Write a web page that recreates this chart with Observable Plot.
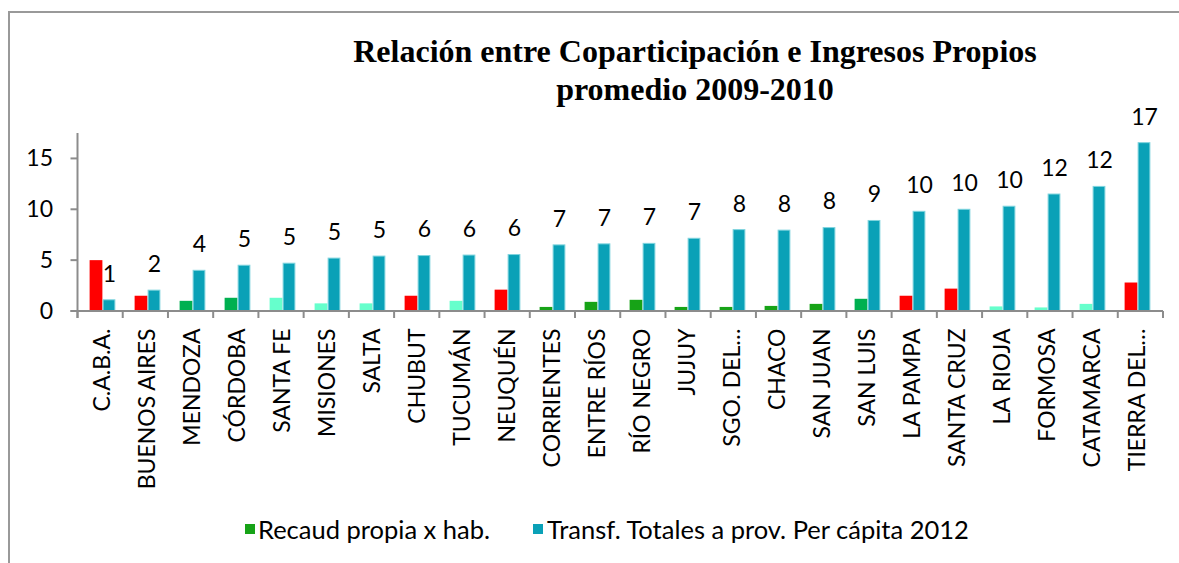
<!DOCTYPE html>
<html>
<head>
<meta charset="utf-8">
<script src="https://cdn.jsdelivr.net/npm/d3@7"></script>
<script src="https://cdn.jsdelivr.net/npm/@observablehq/plot@0.6"></script>
<style>
  html, body { margin: 0; padding: 0; background: #fff; }
  #wrap { position: relative; width: 1179px; height: 563px; overflow: hidden; background: #fff; }
  #frame { position: absolute; left: 8px; top: 11px; right: -20px; bottom: -20px;
           border-top: 2px solid #999; border-left: 2px solid #999; }
  #title { position: relative; height: 100px; }
  #title div { position: absolute; left: 211px; width: 968px; text-align: center;
               font-family: "Liberation Serif", "Times New Roman", serif; font-weight: bold;
               font-size: 32px; line-height: 37px; color: #000; }
  #chart { position: relative; height: 401px; }
  #chart svg { overflow: visible; }
  #legend { position: relative; height: 62px; font-family: Lato, sans-serif; font-size: 25.5px; color: #000; }
  .sw { position: absolute; width: 10px; height: 10px; }
  .lt { position: absolute; line-height: 30px; white-space: nowrap; }
</style>
</head>
<body>
<div id="wrap">
  <div id="frame"></div>
  <div id="title">
    <div style="top:33px">Relación entre Coparticipación e Ingresos Propios</div>
    <div style="top:71px">promedio 2009-2010</div>
  </div>
  <div id="chart"></div>
  <div id="legend">
    <div class="sw" style="left:245px; top:23px; background:#17a317"></div>
    <div class="lt" style="left:258px; top:13px">Recaud propia x hab.</div>
    <div class="sw" style="left:533px; top:23px; background:#0aa1b7"></div>
    <div class="lt" style="left:547px; top:13px">Transf. Totales a prov. Per cápita 2012</div>
  </div>
</div>
<script>
// ---- data ----
const provincias = ["C.A.B.A.","BUENOS AIRES","MENDOZA","CÓRDOBA","SANTA FE","MISIONES","SALTA","CHUBUT","TUCUMÁN","NEUQUÉN","CORRIENTES","ENTRE RÍOS","RÍO NEGRO","JUJUY","SGO. DEL…","CHACO","SAN JUAN","SAN LUIS","LA PAMPA","SANTA CRUZ","LA RIOJA","FORMOSA","CATAMARCA","TIERRA DEL…"];
const recaudPropia = [5.0,1.5,1.0,1.3,1.3,0.75,0.75,1.5,1.0,2.1,0.4,0.9,1.1,0.4,0.4,0.5,0.7,1.2,1.5,2.2,0.45,0.35,0.7,2.8];
const transfTotales = [1.1,2.05,4.0,4.5,4.7,5.2,5.4,5.45,5.5,5.55,6.5,6.6,6.65,7.15,8.0,7.95,8.2,8.9,9.8,10.0,10.3,11.5,12.25,16.55];
const etiquetas = [1,2,4,5,5,5,5,6,6,6,7,7,7,7,8,8,8,9,10,10,10,12,12,17];
const grupo = ["rojo","rojo","verdeOsc","verdeOsc","menta","menta","menta","rojo","menta","rojo","verde","verde","verde","verde","verde","verde","verde","verdeOsc","rojo","rojo","menta","menta","menta","rojo"];
const yTicks = [0,5,10,15];
const grupos = ["rojo","verdeOsc","verde","menta"];
const coloresGrupo = ["#ff0000","#00b050","#17a317","#66ffcc"];

const rows = provincias.map((p, i) => ({prov: p, propia: recaudPropia[i], transf: transfTotales[i], etiqueta: etiquetas[i], grupo: grupo[i]}));

const W = 1179, H = 401, mL = 77.5, mR = 16, mT = 33, mB = 190;
const bw = (W - mL - mR) / provincias.length;
const barW = 13;

const plot = Plot.plot({
  width: W, height: H,
  marginLeft: mL, marginRight: mR, marginTop: mT, marginBottom: mB,
  style: {fontFamily: "Lato, sans-serif", fontSize: "23px", background: "transparent", color: "#000", overflow: "visible"},
  x: {domain: provincias, padding: 0, label: null, tickSize: 0, tickPadding: 17, tickRotate: -90},
  y: {domain: [0, 17.5], ticks: yTicks, label: null, tickSize: 0, tickPadding: 25},
  color: {domain: grupos, range: coloresGrupo},
  marks: [
    Plot.barY(rows, {x: "prov", y: "propia", fill: "grupo", insetLeft: bw/2 - barW, insetRight: bw/2}),
    Plot.barY(rows, {x: "prov", y: "transf", fill: "#0aa1b7", stroke: "#7fd4de", strokeWidth: 1, insetLeft: bw/2 + 0.5, insetRight: bw/2 - barW + 0.5}),
    Plot.text(rows, {x: "prov", y: "transf", text: "etiqueta", dy: -26, dx: barW/2, fontSize: 23, fill: "#000"})
  ]
});
document.getElementById("chart").appendChild(plot);

// axis lines and tick marks drawn from the plot's own scales
const sx = plot.scale("x"), sy = plot.scale("y");
const yLin = d3.scaleLinear(sy.domain, sy.range);
const [r0, r1] = sx.range;
const n = sx.domain.length;
const y0 = yLin(0);
const svg = d3.select(plot.tagName.toLowerCase() === "svg" ? plot : plot.querySelector("svg"));
const g = svg.append("g").attr("stroke", "#8c8c8c").attr("stroke-width", 2);
// x axis line
g.append("line").attr("x1", r0 - 7).attr("x2", r1).attr("y1", y0).attr("y2", y0);
// y axis line
g.append("line").attr("x1", r0).attr("x2", r0).attr("y1", yLin(sy.domain[1])).attr("y2", y0 + 7);
// x boundary ticks
d3.range(n + 1).forEach(i => {
  const xx = r0 + i * (r1 - r0) / n;
  g.append("line").attr("x1", xx).attr("x2", xx).attr("y1", y0).attr("y2", y0 + 7);
});
// y ticks
yTicks.forEach(t => {
  g.append("line").attr("x1", r0 - 7).attr("x2", r0).attr("y1", yLin(t)).attr("y2", yLin(t));
});
</script>
</body>
</html>
